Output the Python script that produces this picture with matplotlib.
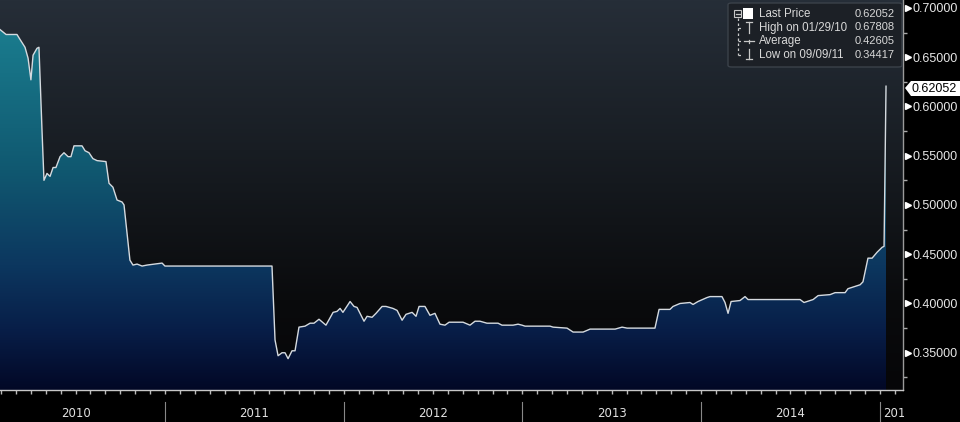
import numpy as np
import matplotlib.pyplot as plt
import matplotlib.transforms as mtransforms
from matplotlib.colors import LinearSegmentedColormap
from matplotlib.patches import Polygon, Rectangle, FancyBboxPatch
from matplotlib.lines import Line2D

# fecha en años decimales, precio
t = np.array([
    2010.077, 2010.111, 2010.172, 2010.189, 2010.217, 2010.234, 2010.250, 2010.262,
    2010.284, 2010.295, 2010.312, 2010.323, 2010.340, 2010.357, 2010.374, 2010.390,
    2010.413, 2010.435, 2010.458, 2010.474, 2010.491, 2010.536, 2010.553, 2010.575,
    2010.597, 2010.620, 2010.670, 2010.687, 2010.709, 2010.732, 2010.760, 2010.771,
    2010.804, 2010.821, 2010.844, 2010.872, 2010.900, 2010.944, 2010.984, 2011.000,
    2011.599, 2011.616, 2011.633, 2011.655, 2011.672, 2011.689, 2011.711, 2011.728,
    2011.750, 2011.784, 2011.812, 2011.834, 2011.862, 2011.901, 2011.941, 2011.963,
    2011.980, 2011.996, 2012.036, 2012.058, 2012.075, 2012.114, 2012.131, 2012.159,
    2012.181, 2012.215, 2012.237, 2012.276, 2012.299, 2012.327, 2012.349, 2012.383,
    2012.405, 2012.422, 2012.455, 2012.483, 2012.511, 2012.539, 2012.567, 2012.590,
    2012.668, 2012.707, 2012.735, 2012.763, 2012.802, 2012.864, 2012.886, 2012.948,
    2012.976, 2012.998, 2013.015, 2013.155, 2013.172, 2013.250, 2013.284, 2013.340,
    2013.379, 2013.519, 2013.558, 2013.586, 2013.742, 2013.765, 2013.826, 2013.843,
    2013.882, 2013.938, 2013.955, 2013.983, 2014.033, 2014.050, 2014.117, 2014.134,
    2014.151, 2014.168, 2014.218, 2014.246, 2014.263, 2014.554, 2014.576, 2014.627,
    2014.655, 2014.722, 2014.750, 2014.806, 2014.822, 2014.890, 2014.906, 2014.934,
    2014.957, 2014.985, 2015.013, 2015.024, 2015.035,
])
price = np.array([
    0.678, 0.673, 0.673, 0.668, 0.660, 0.649, 0.627, 0.652,
    0.659, 0.660, 0.576, 0.525, 0.532, 0.529, 0.538, 0.538,
    0.549, 0.553, 0.549, 0.549, 0.560, 0.560, 0.555, 0.553,
    0.547, 0.545, 0.544, 0.522, 0.518, 0.505, 0.503, 0.500,
    0.444, 0.439, 0.440, 0.438, 0.439, 0.440, 0.441, 0.438,
    0.438, 0.363, 0.347, 0.350, 0.350, 0.344, 0.352, 0.352,
    0.376, 0.377, 0.380, 0.380, 0.384, 0.378, 0.391, 0.392,
    0.395, 0.391, 0.402, 0.397, 0.396, 0.382, 0.387, 0.386,
    0.390, 0.397, 0.397, 0.395, 0.393, 0.383, 0.389, 0.391,
    0.387, 0.397, 0.397, 0.388, 0.390, 0.379, 0.378, 0.381,
    0.381, 0.378, 0.382, 0.382, 0.380, 0.380, 0.378, 0.378,
    0.379, 0.378, 0.377, 0.377, 0.376, 0.375, 0.371, 0.371,
    0.374, 0.374, 0.376, 0.375, 0.375, 0.394, 0.394, 0.397,
    0.400, 0.401, 0.399, 0.402, 0.406, 0.407, 0.407, 0.401,
    0.390, 0.402, 0.403, 0.407, 0.404, 0.404, 0.401, 0.404,
    0.408, 0.409, 0.411, 0.411, 0.415, 0.419, 0.422, 0.446,
    0.446, 0.452, 0.457, 0.458, 0.62052,
])

years = [2010, 2011, 2012, 2013, 2014, 2015]
y_ticks = [0.35, 0.40, 0.45, 0.50, 0.55, 0.60, 0.65, 0.70]
y_minor = [0.325, 0.375, 0.425, 0.475, 0.525, 0.575, 0.625, 0.675]
last_price = 0.62052
leyenda = [("Last Price", "0.62052"),
           ("High on 01/29/10", "0.67808"),
           ("Average", "0.42605"),
           ("Low on 09/09/11", "0.34417")]

W, H = 960, 422
x0, x1 = 2010.077, 2015.13
y0, y1 = 0.3122, 0.708


def fx(px):
    return px / W


def fy(py):
    return 1 - py / H


fig = plt.figure(figsize=(9.6, 4.22), dpi=100, facecolor='black')
ax = fig.add_axes([0, 32 / H, 903 / W, 390 / H])
ax.set_xlim(x0, x1)
ax.set_ylim(y0, y1)
ax.set_facecolor('black')

# Fondo degradado
c = lambda r, g, b: (r / 255, g / 255, b / 255)
bg_cmap = LinearSegmentedColormap.from_list('bg', [
    (0.0, c(6, 6, 8)), (0.23, c(10, 11, 13)), (0.615, c(24, 29, 35)), (1.0, c(38, 46, 56))])
fill_cmap = LinearSegmentedColormap.from_list('fill', [
    (0.0, c(2, 8, 38)), (0.154, c(8, 30, 72)), (0.32, c(12, 55, 95)),
    (0.564, c(16, 88, 112)), (0.923, c(26, 124, 142)), (1.0, c(28, 130, 147))])
grad = np.linspace(0, 1, 256).reshape(-1, 1)
ax.imshow(grad, extent=[x0, x1, y0, y1], origin='lower', aspect='auto',
          cmap=bg_cmap, zorder=0)

# Relleno bajo la curva con degradado
verts = np.vstack([np.column_stack([t, price]), [[t[-1], y0], [t[0], y0]]])
poly = Polygon(verts, closed=True, facecolor='none', edgecolor='none',
               transform=ax.transData)
ax.add_patch(poly)
im = ax.imshow(grad, extent=[x0, x1, y0, y1], origin='lower', aspect='auto',
               cmap=fill_cmap, zorder=1)
im.set_clip_path(poly)

ax.plot(t, price, color='#d5dadf', lw=1.0, zorder=3)
ax.set_xlim(x0, x1)
ax.set_ylim(y0, y1)

# Ejes
for s in ['top', 'left']:
    ax.spines[s].set_visible(False)
ax.spines['bottom'].set_color('#c8c8c8')
ax.spines['right'].set_color('#9a9a9a')
ax.spines['bottom'].set_linewidth(1.0)
ax.spines['right'].set_linewidth(1.0)

ax.yaxis.tick_right()
ax.set_yticks(y_ticks)
ax.set_yticklabels([f'{v:.5f}' for v in y_ticks], family=['Liberation Sans', 'DejaVu Sans'])
ax.set_yticks(y_minor, minor=True)
ax.tick_params(axis='y', which='major', length=0, pad=7, labelcolor='#e6e6e6', labelsize=9)
ax.tick_params(axis='y', which='minor', length=3, width=1, color='#aaaaaa', direction='out')

trans_y = mtransforms.blended_transform_factory(ax.transAxes, ax.transData)
ax.plot([1.0055] * len(y_ticks), y_ticks, ls='none', marker='>', ms=5,
        color='white', mec='white', transform=trans_y, clip_on=False)

months = [yr + m / 12 for yr in range(2010, 2016) for m in range(12)]
months = [m for m in months if x0 <= m <= x1]
ax.set_xticks(months)
ax.set_xticklabels([])
ax.tick_params(axis='x', length=3, width=1, color='#bbbbbb', direction='out')

trans_x = mtransforms.blended_transform_factory(ax.transData, ax.transAxes)
for yr in years:
    ax.plot([yr, yr], [-0.031, -0.085], color='#888888', lw=0.8,
            transform=trans_x, clip_on=False)
    if yr < 2015:
        ax.text(yr + 0.5, -0.059, str(yr), color='#e0e0e0', fontsize=8.5,
                ha='center', va='center', transform=trans_x,
                family=['Liberation Sans Narrow', 'DejaVu Sans'])
    else:
        ax.text(yr + 0.02, -0.059, str(yr), color='#e0e0e0', fontsize=8.5,
                ha='left', va='center', transform=trans_x,
                family=['Liberation Sans Narrow', 'DejaVu Sans'])

# tapa el texto de 2015 que sale del eje
fig.add_artist(Rectangle((fx(904), 0), 1 - fx(904), 31 / H, transform=fig.transFigure,
                         facecolor='black', edgecolor='none', zorder=10))

# Etiqueta del último precio
tag = Polygon([(fx(905), fy(88)), (fx(911), fy(81)), (fx(960), fy(81)),
               (fx(960), fy(96)), (fx(911), fy(96))], closed=True,
              transform=fig.transFigure, facecolor='white', edgecolor='none', zorder=11)
fig.add_artist(tag)
fig.text(fx(912), fy(88.5), f'{last_price:.5f}', color='black', fontsize=9,
         ha='left', va='center', zorder=12, family=['Liberation Sans', 'DejaVu Sans'])

# Leyenda
box = FancyBboxPatch((fx(728), fy(67)), fx(902) - fx(728), fy(3) - fy(67),
                     boxstyle='round,pad=0,rounding_size=0.004',
                     transform=fig.transFigure, facecolor='#1c2026', edgecolor='#3c434b',
                     lw=1, alpha=0.95, zorder=11)
fig.add_artist(box)
row_y = [14, 27.5, 41, 54.5]
for (lab, val), ry in zip(leyenda, row_y):
    fig.text(fx(759), fy(ry), lab, color='#d8d8d8', fontsize=8.3, ha='left', va='center',
             zorder=12, family=['Liberation Sans', 'DejaVu Sans'])
    fig.text(fx(895), fy(ry), val, color='#d8d8d8', fontsize=8.0, ha='right', va='center',
             zorder=12, family=['Liberation Sans', 'DejaVu Sans'])

icol = '#c8c8c8'
def seg(xa, ya, xb, yb, **kw):
    fig.add_artist(Line2D([fx(xa), fx(xb)], [fy(ya), fy(yb)], transform=fig.transFigure,
                          color=kw.get('color', icol), lw=kw.get('lw', 0.9),
                          ls=kw.get('ls', '-'), zorder=12))

# caja del árbol y cuadrado blanco
fig.add_artist(Rectangle((fx(734), fy(17)), fx(741) - fx(734), fy(10) - fy(17),
                         transform=fig.transFigure, facecolor='none', edgecolor=icol,
                         lw=0.8, zorder=12))
seg(735.5, 13.5, 739.5, 13.5)
fig.add_artist(Rectangle((fx(743), fy(19)), fx(753) - fx(743), fy(8) - fy(19),
                         transform=fig.transFigure, facecolor='white', edgecolor='none',
                         zorder=12))
seg(737.5, 18, 737.5, 54.5, ls=(0, (2, 2)))
for ry in row_y[1:]:
    seg(737.5, ry, 743, ry, ls=(0, (2, 2)))
# High
seg(749, 22, 749, 33)
seg(746, 22, 752, 22)
# Average
seg(744, 41, 754, 41)
seg(749, 39.5, 749, 42.5)
# Low
seg(749, 49, 749, 59)
seg(746, 59, 752, 59)

fig.savefig('out.png', dpi=100, facecolor='black')
